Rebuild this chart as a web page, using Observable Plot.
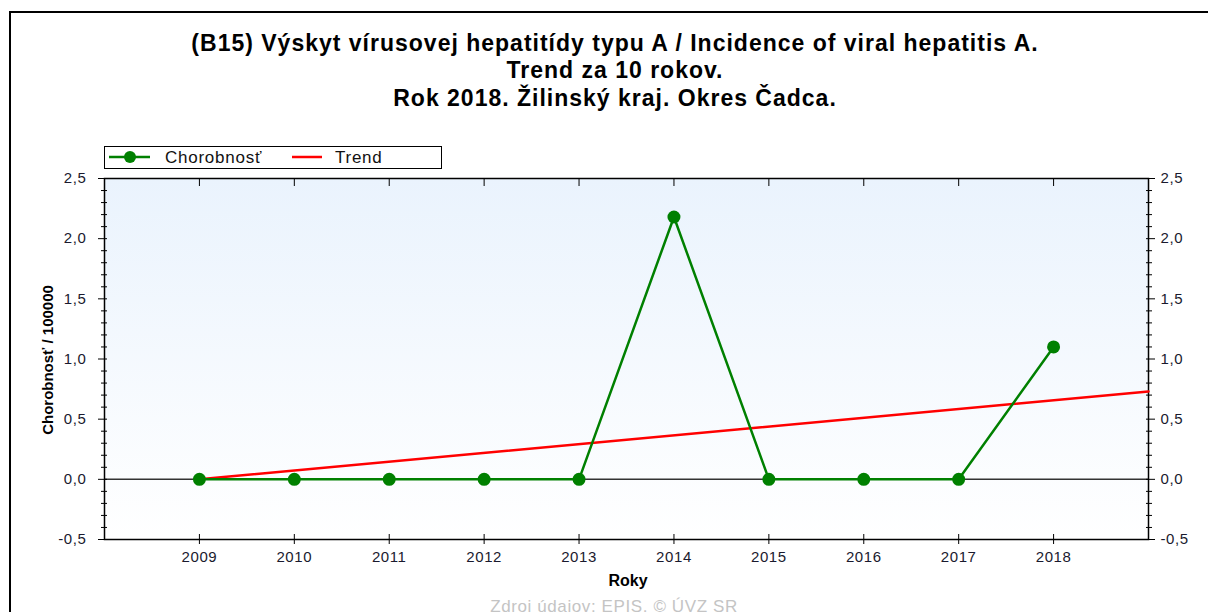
<!DOCTYPE html>
<html>
<head>
<meta charset="utf-8">
<script src="https://cdn.jsdelivr.net/npm/d3@7"></script>
<script src="https://cdn.jsdelivr.net/npm/@observablehq/plot@0.6"></script>
<style>
  html, body { margin: 0; padding: 0; background: #fff; }
  #wrap { position: relative; width: 1208px; height: 612px; overflow: hidden; font-family: "Liberation Sans", Arial, sans-serif; }
  #border { position: absolute; left: 9px; top: 11px; width: 1400px; height: 800px; border-left: 2px solid #000; border-top: 2px solid #000; }
  .title { position: absolute; left: 615px; transform: translateX(-50%); white-space: nowrap; font-weight: bold; font-size: 23px; letter-spacing: 1px; color: #000; }
  #legend { position: absolute; left: 104px; top: 146px; width: 338px; height: 23px; box-sizing: border-box; border: 1.5px solid #000; background: #fff; }
  .ltext { position: absolute; top: 50%; transform: translateY(-50%); font-size: 17px; letter-spacing: 0.75px; color: #111; white-space: nowrap; }
  #ylab { position: absolute; left: 47px; top: 360px; transform: translate(-50%, -50%) rotate(-90deg); font-weight: bold; font-size: 15px; white-space: nowrap; color: #000; }
  #xlab { position: absolute; left: 628px; top: 581px; transform: translate(-50%, -50%); font-weight: bold; font-size: 16px; color: #000; white-space: nowrap; }
  #footer { position: absolute; left: 614px; top: 597px; transform: translateX(-50%); font-size: 17px; letter-spacing: 0.6px; color: #c4c4c4; white-space: nowrap; }
  #chart { position: absolute; left: 0; top: 170px; }
</style>
</head>
<body>
<div id="wrap">
  <div id="border"></div>
  <div class="title" style="top:30px">(B15) Výskyt vírusovej hepatitídy typu A / Incidence of viral hepatitis A.</div>
  <div class="title" style="top:57px">Trend za 10 rokov.</div>
  <div class="title" style="top:85px">Rok 2018. Žilinský kraj. Okres Čadca.</div>
  <div id="legend"></div>
  <div id="ylab">Chorobnosť / 100000</div>
  <div id="xlab">Roky</div>
  <div id="footer">Zdroj údajov: EPIS, © ÚVZ SR</div>
  <div id="chart"></div>
</div>
<script>
// ---- data ----
const years = [2009, 2010, 2011, 2012, 2013, 2014, 2015, 2016, 2017, 2018];
const incidence = [0, 0, 0, 0, 0, 2.18, 0, 0, 0, 1.10];
const trendYears = [2009, 2019];
const trendValues = [0, 0.73];
const xDomain = [2008, 2019];
const yDomain = [-0.5, 2.5];
const yMajorTicks = [-0.5, 0, 0.5, 1.0, 1.5, 2.0, 2.5];
const yMinorTicks = [-0.4, -0.3, -0.2, -0.1, 0.1, 0.2, 0.3, 0.4, 0.6, 0.7, 0.8, 0.9, 1.1, 1.2, 1.3, 1.4, 1.6, 1.7, 1.8, 1.9, 2.1, 2.2, 2.3, 2.4];
const seriesNames = ["Chorobnosť", "Trend"];
const seriesColors = ["#008000", "#ff0000"];

const rows = years.map((y, i) => ({year: y, value: incidence[i]}));
const trend = trendYears.map((y, i) => ({year: y, value: trendValues[i]}));
const fmt = d => d3.format(".1f")(d).replace(".", ",").replace("−", "-");

const svgNS = "http://www.w3.org/2000/svg";

// legend
(function () {
  const lg = document.getElementById("legend");
  const s = document.createElementNS(svgNS, "svg");
  s.setAttribute("width", 335); s.setAttribute("height", 20);
  s.style.position = "absolute"; s.style.left = "0"; s.style.top = "0";
  s.innerHTML = `<line x1="4" x2="45" y1="10" y2="10" stroke="${seriesColors[0]}" stroke-width="2.5"/>
    <circle cx="25" cy="10" r="6" fill="${seriesColors[0]}"/>
    <line x1="187" x2="217" y1="10" y2="10" stroke="${seriesColors[1]}" stroke-width="2.5"/>`;
  lg.appendChild(s);
  const t1 = document.createElement("div"); t1.className = "ltext"; t1.style.left = "60px"; t1.textContent = seriesNames[0];
  const t2 = document.createElement("div"); t2.className = "ltext"; t2.style.left = "230px"; t2.textContent = seriesNames[1];
  lg.appendChild(t1); lg.appendChild(t2);
})();

const tickFont = {fontSize: 15, fill: "#1a1a2e"};

const chart = Plot.plot({
  width: 1208,
  height: 442,
  marginLeft: 104,
  marginRight: 60,
  marginTop: 8,
  marginBottom: 73,
  style: {fontFamily: "'Liberation Sans', Arial, sans-serif", fontSize: "15px", letterSpacing: "0.6px", background: "transparent", overflow: "visible"},
  x: {domain: xDomain},
  y: {domain: yDomain},
  marks: [
    Plot.frame({fill: "url(#bgGrad)", stroke: null}),
    Plot.ruleY([0], {stroke: "#333", strokeWidth: 1.5}),
    // left axis
    Plot.axisY({anchor: "left", ticks: yMajorTicks, tickSize: 9, dx: 3, text: null, stroke: "#000", label: null}),
    Plot.axisY({anchor: "left", ticks: yMinorTicks, tickSize: 6, dx: 3, text: null, stroke: "#000", label: null}),
    Plot.axisY({anchor: "left", ticks: yMajorTicks, tickSize: 0, tickPadding: 18, tickFormat: fmt, label: null, ...tickFont}),
    // right axis
    Plot.axisY({anchor: "right", ticks: yMajorTicks, tickSize: 9, dx: -3, text: null, stroke: "#000", label: null}),
    Plot.axisY({anchor: "right", ticks: yMinorTicks, tickSize: 6, dx: -3, text: null, stroke: "#000", label: null}),
    Plot.axisY({anchor: "right", ticks: yMajorTicks, tickSize: 0, tickPadding: 12, tickFormat: fmt, label: null, ...tickFont}),
    // bottom axis
    Plot.axisX({anchor: "bottom", ticks: years, tickSize: 10, dy: -5, text: null, stroke: "#000", label: null}),
    Plot.axisX({anchor: "bottom", ticks: years, tickSize: 0, tickPadding: 12, tickFormat: d => String(d), label: null, ...tickFont}),
    // top axis (inward ticks only)
    Plot.axisX({anchor: "top", ticks: years, tickSize: 7, dy: 7, text: null, stroke: "#000", label: null}),
    Plot.frame({stroke: "#000", strokeWidth: 1.5}),
    // series
    Plot.line(trend, {x: "year", y: "value", stroke: seriesColors[1], strokeWidth: 2.5}),
    Plot.line(rows, {x: "year", y: "value", stroke: seriesColors[0], strokeWidth: 2.5}),
    Plot.dot(rows, {x: "year", y: "value", r: 6.5, fill: seriesColors[0], stroke: null})
  ]
});

const defs = document.createElementNS(svgNS, "defs");
defs.innerHTML = `<linearGradient id="bgGrad" x1="0" y1="0" x2="0" y2="1">
  <stop offset="0" stop-color="#eaf3fd"/>
  <stop offset="1" stop-color="#ffffff"/>
</linearGradient>`;
chart.insertBefore(defs, chart.firstChild);
document.getElementById("chart").appendChild(chart);
</script>
</body>
</html>
